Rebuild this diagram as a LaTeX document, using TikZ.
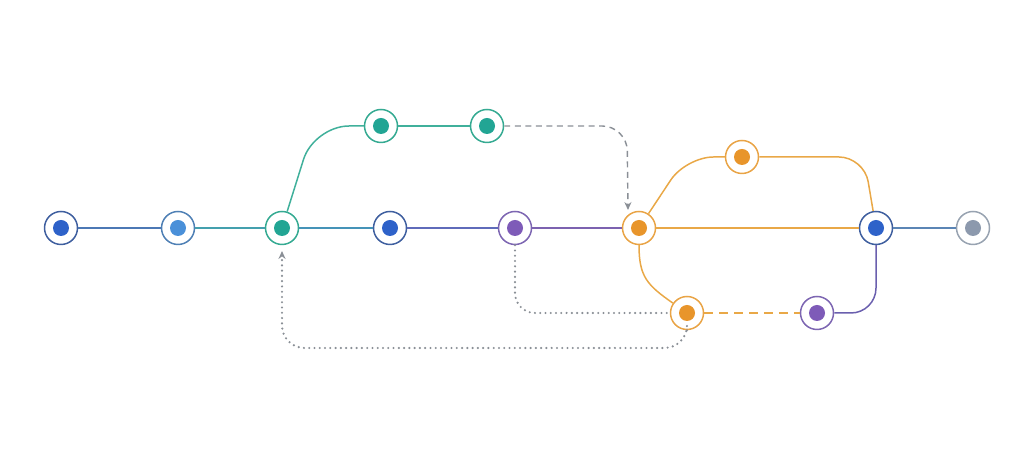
\documentclass[tikz,border=0pt]{standalone}
\usepackage{tikz}
\usetikzlibrary{calc,arrows.meta}

\definecolor{ringA}{HTML}{3F5F9F}
\definecolor{blueA}{HTML}{2E62C9}
\definecolor{ringB}{HTML}{4F80B5}
\definecolor{blueB}{HTML}{4A90D9}
\definecolor{ringC}{HTML}{35AA92}
\definecolor{tealC}{HTML}{22A594}
\definecolor{ringD}{HTML}{7D66B2}
\definecolor{purpD}{HTML}{7E5BB8}
\definecolor{ringE}{HTML}{E9A446}
\definecolor{orngE}{HTML}{E8952B}
\definecolor{ringF}{HTML}{98A3B1}
\definecolor{grayF}{HTML}{8C99AD}
\definecolor{lineAB}{HTML}{4C78B5}
\definecolor{lineBC}{HTML}{44A0AE}
\definecolor{lineCD}{HTML}{4593B8}
\definecolor{lineDE}{HTML}{5F6BBA}
\definecolor{lineEF}{HTML}{7C62B0}
\definecolor{lineGH}{HTML}{5B85B5}
\definecolor{tealline}{HTML}{40B09B}
\definecolor{orngline}{HTML}{E9A847}
\definecolor{purpline}{HTML}{6A5FAE}
\definecolor{arrowgray}{HTML}{8A8F96}

\begin{document}
\begin{tikzpicture}[x=0.02cm,y=0.02cm,
    commit/.style 2 args={circle,draw=#1,fill=white,line width=0.85pt,
        minimum size=0.66cm,inner sep=0pt,
        path picture={\fill[#2] (path picture bounding box.center) circle (0.16cm);}},
    branch/.style={line width=0.85pt},
    merge/.style={arrowgray,line width=0.8pt,dash pattern=on 3.4pt off 2.6pt},
    pick/.style={arrowgray,line width=1.35pt,line cap=round,dash pattern=on 0pt off 3pt}]
    \useasboundingbox (0,0) rectangle (1024,452);

    % main line
    \node[commit={ringA}{blueA}] (c1) at (61,224) {};
    \node[commit={ringB}{blueB}] (c2) at (178,224) {};
    \node[commit={ringC}{tealC}] (c3) at (282,224) {};
    \node[commit={ringA}{blueA}] (c4) at (390,224) {};
    \node[commit={ringD}{purpD}] (c5) at (515,224) {};
    \node[commit={ringE}{orngE}] (c6) at (639,224) {};
    \node[commit={ringA}{blueA}] (c7) at (876,224) {};
    \node[commit={ringF}{grayF}] (c8) at (973,224) {};

    % side branches
    \node[commit={ringC}{tealC}] (t1) at (381,326) {};
    \node[commit={ringC}{tealC}] (t2) at (487,326) {};
    \node[commit={ringE}{orngE}] (o1) at (742,295) {};
    \node[commit={ringE}{orngE}] (o2) at (687,139) {};
    \node[commit={ringD}{purpD}] (p1) at (817,139) {};

    \coordinate (m1) at (628,242);
    \coordinate (m2) at (282,201);

    \draw[branch,lineAB] (c1) -- (c2);
    \draw[branch,lineBC] (c2) -- (c3);
    \draw[branch,lineCD] (c3) -- (c4);
    \draw[branch,lineDE] (c4) -- (c5);
    \draw[branch,lineEF] (c5) -- (c6);
    \draw[branch,orngline] (c6) -- (c7);
    \draw[branch,lineGH] (c7) -- (c8);

    \draw[branch,tealline,rounded corners=0.7cm] (c3) -- (314,326) -- (t1);
    \draw[branch,tealline] (t1) -- (t2);
    \draw[merge,-{Stealth[length=4.5pt,width=4pt]},rounded corners=0.5cm] (t2) -- (627,326) -- (m1);

    \draw[branch,orngline,rounded corners=0.55cm] (c6) -- (686,295) -- (o1);
    \draw[branch,orngline,rounded corners=0.5cm] (o1) -- (864,295) -- (c7);
    \draw[branch,orngline] (c6.south) to[out=-90,in=145,looseness=1.2] (o2);
    \draw[branch,orngline,dash pattern=on 5pt off 3.5pt] (o2) -- (p1);
    \draw[branch,purpline,rounded corners=0.5cm] (p1) -- (876,139) -- (c7);

    \draw[pick,rounded corners=0.4cm] (c5) -- (515,139) -- (o2);
    \draw[pick,-{Stealth[length=4.5pt,width=4pt]},rounded corners=0.45cm] (o2) -- (687,104) -- (282,104) -- (m2);
\end{tikzpicture}
\end{document}
